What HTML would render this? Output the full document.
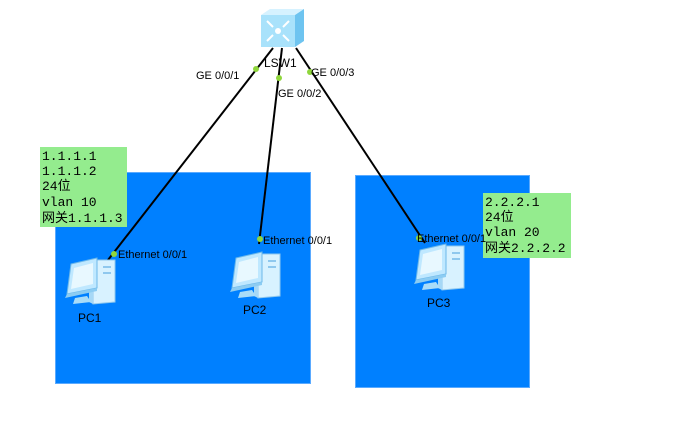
<!DOCTYPE html>
<html><head><meta charset="utf-8"><style>
body{margin:0;background:#fff;width:685px;height:423px;overflow:hidden}
text{font-family:"Liberation Sans","Noto Sans CJK SC",sans-serif}
.m{font-family:"Liberation Mono","Noto Sans CJK SC",monospace;font-size:13px;fill:#000}
</style></head><body>
<svg width="685" height="423" xmlns="http://www.w3.org/2000/svg">
<defs>
<g id="pc">
 <path d="M30 2 L52 2 L52 44 L30 46 Z" fill="#d8f2ff" stroke="#8fc8ee" stroke-width="1"/>
 <path d="M26 4 L30 2 L30 46 L26 44 Z" fill="#a6d8f6"/>
 <rect x="40" y="8" width="8" height="2" fill="#8fc8ee"/>
 <rect x="40" y="14" width="8" height="2" fill="#8fc8ee"/>
 <path d="M8 6 L34 0 L34 30 L4 36 Z" fill="#bfe8ff" stroke="#6cb8ea" stroke-width="1"/>
 <path d="M11 10 L30 5 L30 26 L8 31 Z" fill="#e8f8ff"/>
 <path d="M4 36 L34 30 L34 33 L2 40 Z" fill="#8cccf2"/>
 <path d="M12 40 L24 38 L28 44 L10 46 Z" fill="#a9dcf8"/>
</g>
</defs>
<rect x="55.5" y="172.5" width="255" height="211" fill="#0080ff" stroke="#5aaaff"/>
<rect x="355.5" y="175.5" width="174" height="212" fill="#0080ff" stroke="#5aaaff"/>
<rect x="40" y="147" width="87" height="80" fill="#94ec8e"/>
<rect x="483" y="193" width="88" height="65" fill="#94ec8e"/>
<text class="m" x="42" y="160">1.1.1.1</text>
<text class="m" x="42" y="175">1.1.1.2</text>
<text class="m" x="42" y="190">24位</text>
<text class="m" x="42" y="206">vlan 10</text>
<text class="m" x="42" y="222">网关1.1.1.3</text>
<text class="m" x="485" y="206">2.2.2.1</text>
<text class="m" x="485" y="221">24位</text>
<text class="m" x="485" y="236">vlan 20</text>
<text class="m" x="485" y="252">网关2.2.2.2</text>
<g stroke="#000" stroke-width="2">
<line x1="273" y1="48" x2="108" y2="260"/>
<line x1="282" y1="48" x2="259" y2="244"/>
<line x1="296" y1="48" x2="425" y2="243"/>
</g>
<path d="M261 15 L270 9 L304 9 L295 15 Z" fill="#d6f2ff"/>
<path d="M295 15 L304 9 L304 41 L295 47 Z" fill="#6ec4f0"/>
<rect x="261" y="15" width="34" height="32" fill="#a9e2fb"/>
<g stroke="#fff" stroke-width="2" fill="none">
<path d="M267 21 L273 27 M289 21 L283 27 M267 41 L273 35 M289 41 L283 35"/>
</g>
<circle cx="278" cy="31" r="3" fill="#fff"/>
<text x="264" y="67" font-size="12">LSW1</text>
<g fill="#8fd63c">
<circle cx="256" cy="69" r="3"/><circle cx="279" cy="78" r="3"/><circle cx="310" cy="72" r="3"/>
<circle cx="114" cy="254" r="3"/><circle cx="260" cy="239" r="3"/><circle cx="419" cy="238" r="3"/>
</g>
<g font-size="11">
<text x="196" y="79">GE 0/0/1</text>
<text x="278" y="97">GE 0/0/2</text>
<text x="311" y="76">GE 0/0/3</text>
<text x="118" y="258">Ethernet 0/0/1</text>
<text x="263" y="244">Ethernet 0/0/1</text>
<text x="417" y="242">Ethernet 0/0/1</text>
</g>
<use href="#pc" x="63" y="258"/>
<use href="#pc" x="228" y="252"/>
<use href="#pc" x="412" y="244"/>
<g font-size="12">
<text x="78" y="322">PC1</text>
<text x="243" y="314">PC2</text>
<text x="427" y="307">PC3</text>
</g>
</svg>
</body></html>
